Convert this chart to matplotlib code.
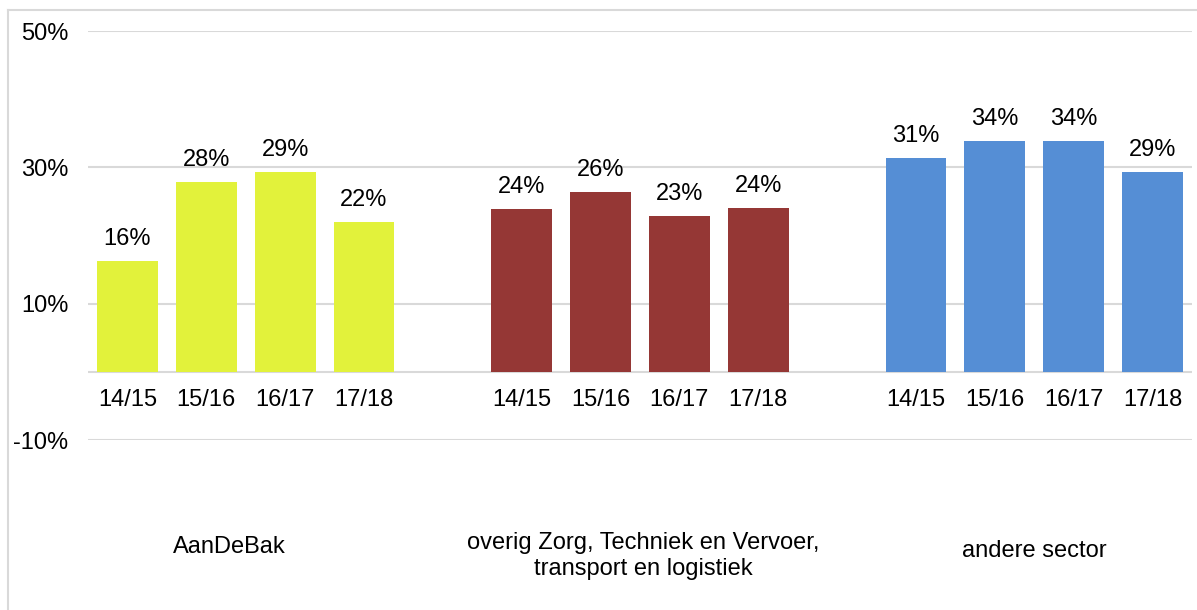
#!/usr/bin/env python3
"""Grouped bar chart: percentages per school year for three sectors."""

import matplotlib
matplotlib.use("Agg")
import matplotlib.pyplot as plt
from matplotlib.lines import Line2D

plt.rcParams["font.family"] = ["Liberation Sans", "DejaVu Sans"]

# ── data ─────────────────────────────────────────────────────────────
years = ["14/15", "15/16", "16/17", "17/18"]
groups = ["AanDeBak",
          "overig Zorg, Techniek en Vervoer,\ntransport en logistiek",
          "andere sector"]
aandebak = [16.3, 27.8, 29.4, 22.0]
overig = [23.9, 26.4, 22.9, 24.1]
andere = [31.4, 33.9, 33.9, 29.4]
yticks = [-10, 10, 30, 50]

series = [aandebak, overig, andere]
colors = ["#E2F23B", "#953735", "#558ED5"]
GRID = "#D9D9D9"
FS = 17

# ── plot ─────────────────────────────────────────────────────────────
W, H = 1197, 610
fig = plt.figure(figsize=(W / 100, H / 100), dpi=100)
ax = fig.add_axes([88 / W, 1 - 440.3 / H, (1192 - 88) / W, (440.3 - 31) / H])

for g, (vals, col) in enumerate(zip(series, colors)):
    xs = [g * (len(years) + 1) + i for i in range(len(years))]
    ax.bar(xs, vals, width=0.77, color=col, zorder=3)
    for x, v, yr in zip(xs, vals, years):
        ax.annotate(f"{v:.0f}%", (x, v), xytext=(0, 11.5), textcoords="offset points",
                    ha="center", va="baseline", fontsize=FS)
        ax.annotate(yr, (x, 0), xytext=(0, -24.5), textcoords="offset points",
                    ha="center", va="baseline", fontsize=FS)

# group labels below the axis (first one sits slightly left of centre, as in the source)
label_x = [1.29, 6.54, 11.5]
label_y = [1 - 553 / H, 1 - 575 / H, 1 - 557 / H]
for lx, ly, name in zip(label_x, label_y, groups):
    ax.annotate(name, (lx, ly), xycoords=("data", "figure fraction"),
                ha="center", va="baseline", fontsize=FS, linespacing=1.25)

ax.set_xlim(-0.5, 13.5)
ax.set_ylim(-10, 50)
ax.set_yticks(yticks)
ax.set_yticklabels([f"{t}%" for t in yticks], fontsize=FS)
ax.set_xticks([])
ax.tick_params(axis="y", length=0, pad=14)
ax.grid(axis="y", color=GRID, lw=1.5, zorder=0)
ax.axhline(0, color=GRID, lw=1.5, zorder=2)
for s in ax.spines.values():
    s.set_visible(False)

# light outer frame (left and top edges visible in the source)
fig.add_artist(Line2D([8 / W, 8 / W], [0, 1 - 10 / H], color=GRID, lw=1.5))
fig.add_artist(Line2D([8 / W, 1], [1 - 10 / H, 1 - 10 / H], color=GRID, lw=1.5))

fig.savefig("out.png", dpi=100, facecolor="white")
plt.close()
